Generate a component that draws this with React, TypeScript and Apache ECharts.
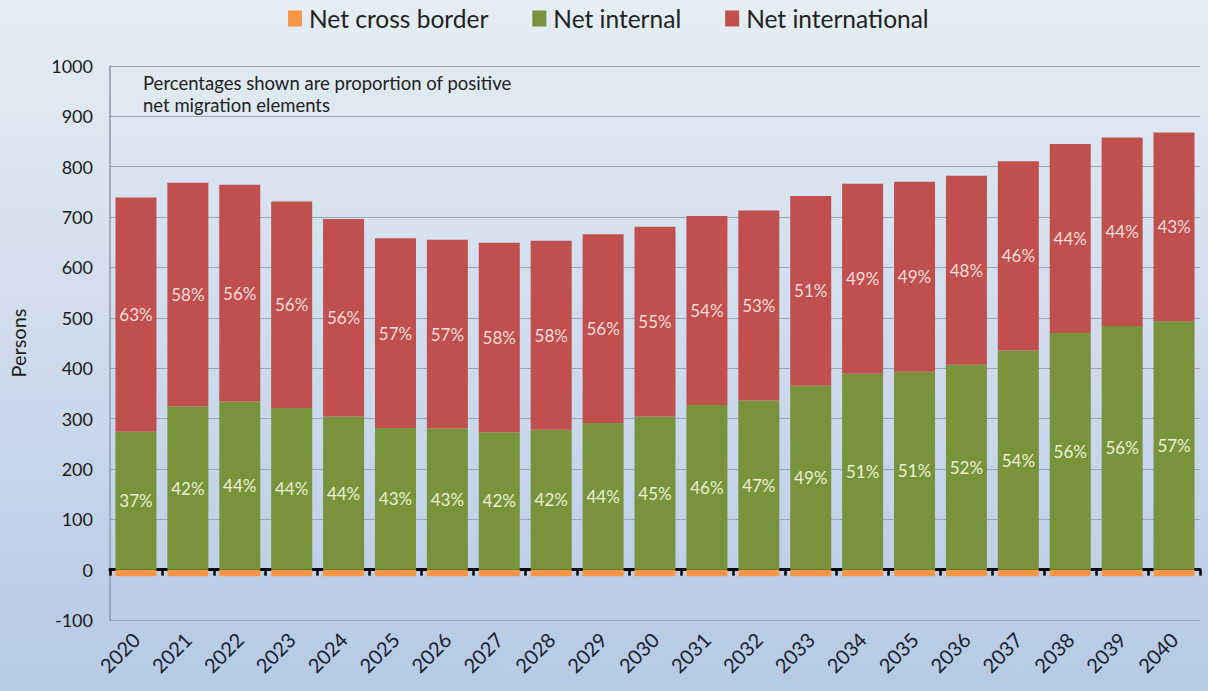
import React, { useEffect, useRef } from "react";
import * as echarts from "echarts";

const years = ["2020","2021","2022","2023","2024","2025","2026","2027","2028","2029","2030","2031","2032","2033","2034","2035","2036","2037","2038","2039","2040"];
const netCrossBorder = [-13,-13,-13,-13,-13,-13,-13,-13,-13,-13,-13,-13,-13,-13,-13,-13,-13,-13,-13,-13,-13];
const netInternal = [274,324,334,321,304,281,280,273,278,291,304,327,336,365,389,393,407,435,470,484,493];
const netInternational = [465,444,430,410,392,377,375,376,375,375,377,375,377,377,377,377,375,376,375,374,375];
const internalPct = ["37%","42%","44%","44%","44%","43%","43%","42%","42%","44%","45%","46%","47%","49%","51%","51%","52%","54%","56%","56%","57%"];
const internationalPct = ["63%","58%","56%","56%","56%","57%","57%","58%","58%","56%","55%","54%","53%","51%","49%","49%","48%","46%","44%","44%","43%"];
const yTicks = { min: -100, max: 1000, interval: 100 };

const FONT = "Lato, 'Noto Sans', sans-serif";

export default function App() {
  const ref = useRef<HTMLDivElement>(null);
  useEffect(() => {
    if (!ref.current) return;
    const chart = echarts.init(ref.current, null, { renderer: "svg" });
    chart.setOption({
      animation: false,
      backgroundColor: {
        type: "linear", x: 0, y: 0, x2: 0, y2: 1,
        colorStops: [
          { offset: 0, color: "#e6edf5" },
          { offset: 1, color: "#b6cae4" },
        ],
      },
      textStyle: { fontFamily: FONT },
      legend: {
        top: 1,
        left: 283,
        itemWidth: 14,
        itemHeight: 16,
        itemGap: 44,
        icon: "rect",
        textStyle: { fontSize: 24.5, color: "#222", fontFamily: FONT, padding: [0, 0, 0, 2] },
        data: ["Net cross border", "Net internal", "Net international"],
      },
      grid: { left: 110, right: 8, top: 66, bottom: 71, containLabel: false },
      graphic: [
        {
          type: "text",
          left: 143,
          top: 72,
          style: {
            text: "Percentages shown are proportion of positive\nnet migration elements",
            fontSize: 18.5,
            lineHeight: 22,
            fill: "#222",
            fontFamily: FONT,
          },
        },
      ],
      xAxis: [
        {
          type: "category",
          data: years,
          position: "bottom",
          axisLine: { show: false, onZero: false },
          axisTick: { show: false },
          axisLabel: {
            rotate: 45,
            fontSize: 20,
            color: "#17212e",
            fontWeight: "normal",
            margin: 16,
            fontFamily: FONT,
          },
        },
        {
          type: "category",
          data: years,
          position: "bottom",
          axisLine: { show: true, onZero: true, lineStyle: { color: "#000", width: 3 } },
          axisTick: { show: true, length: 6, lineStyle: { color: "#000", width: 2.5 } },
          axisLabel: { show: false },
        },
      ],
      yAxis: {
        type: "value",
        min: yTicks.min,
        max: yTicks.max,
        interval: yTicks.interval,
        name: "Persons",
        nameLocation: "middle",
        nameGap: 82,
        nameRotate: 90,
        nameTextStyle: { fontSize: 20, color: "#1a1a1a", fontFamily: FONT },
        axisLine: { show: true, lineStyle: { color: "#8d9aab", width: 1.5 } },
        axisTick: { show: false },
        axisLabel: {
          fontSize: 18,
          color: "#1a1a1a",
          margin: 17,
          fontFamily: FONT,
          formatter: (v: number) => String(v),
        },
        splitLine: { lineStyle: { color: "#99a6b6", width: 1.2 } },
      },
      series: [
        {
          name: "Net cross border",
          type: "bar",
          stack: "total",
          xAxisIndex: 0,
          barCategoryGap: "21%",
          itemStyle: { color: "#f79646" },
          data: netCrossBorder,
        },
        {
          name: "Net internal",
          type: "bar",
          stack: "total",
          xAxisIndex: 0,
          barCategoryGap: "21%",
          itemStyle: { color: "#77933c" },
          label: {
            show: true,
            position: "inside",
            fontSize: 17,
            color: "#eef0cf",
            fontFamily: FONT,
            formatter: (p: any) => internalPct[p.dataIndex],
          },
          data: netInternal,
        },
        {
          name: "Net international",
          type: "bar",
          stack: "total",
          xAxisIndex: 0,
          barCategoryGap: "21%",
          itemStyle: { color: "#c0504d" },
          label: {
            show: true,
            position: "inside",
            fontSize: 17,
            color: "#f8ddd8",
            fontFamily: FONT,
            formatter: (p: any) => internationalPct[p.dataIndex],
          },
          data: netInternational,
        },
      ],
    });
    return () => chart.dispose();
  }, []);
  return (
    <div
      ref={ref}
      style={{ position: "fixed", left: 0, top: 0, width: 1208, height: 691 }}
    />
  );
}
